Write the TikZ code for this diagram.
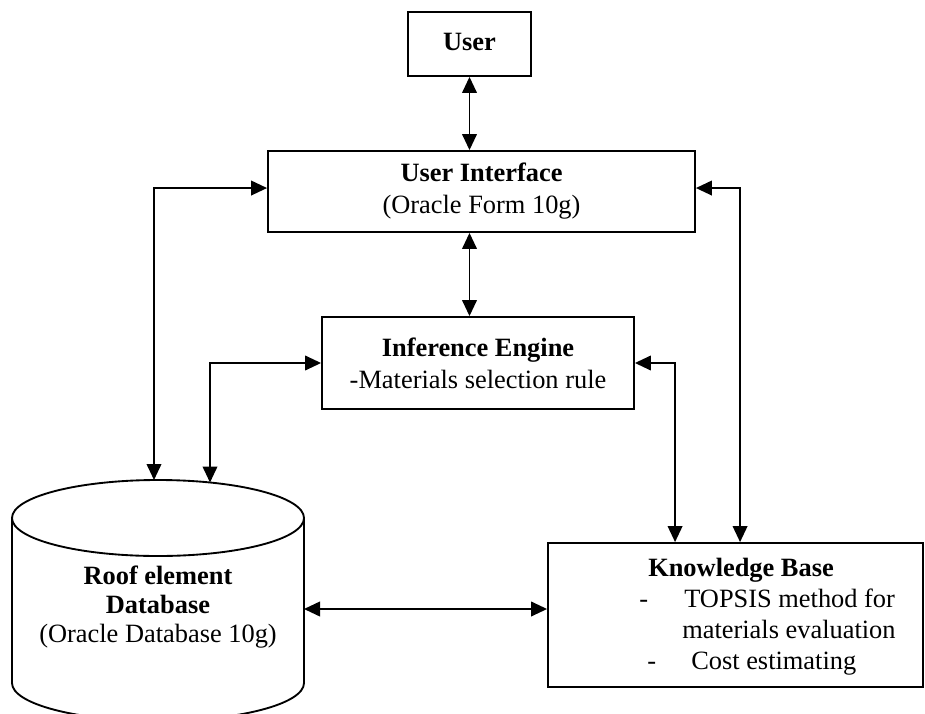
\documentclass[tikz,border=0pt]{standalone}
\usepackage{fontspec}
\setmainfont{Liberation Serif}
\usetikzlibrary{arrows.meta,calc}
\begin{document}
\begin{tikzpicture}[x=0.75pt,y=-0.75pt,
  txt/.style={font=\fontsize{19.8}{24}\selectfont},
  box/.style={txt,draw,line width=1.4pt,inner sep=0pt,align=center},
  biarrow/.style={line width=1.3pt,{Triangle[length=12pt,width=11pt]}-{Triangle[length=12pt,width=11pt]}},
]
\useasboundingbox (0,0) rectangle (925,714);

% boxes
\node[box,minimum width=92.25pt,minimum height=48pt,text depth=3pt] (user) at (469.5,44) {\textbf{User}};
\node[box,minimum width=320.25pt,minimum height=60.75pt] (ui) at (481.5,191.5)
  {\textbf{User Interface}\\(Oracle Form 10g)};
\node[box,minimum width=234pt,minimum height=69pt] (ie) at (478,363)
  {\textbf{Inference Engine}\\-Materials selection rule};
\node[box,minimum width=281.25pt,minimum height=108pt] (kb) at (735.5,615) {};
\node[txt,align=left,inner sep=0pt,anchor=west,font=\fontsize{19.8}{23.25}\selectfont] (kbtext) at (639,617)
  {\hspace*{6.75pt}\textbf{Knowledge Base}\\
   \makebox[33.75pt][l]{-}TOPSIS method for\\
   \hspace*{32.25pt}materials evaluation\\
   \hspace*{6pt}\makebox[33pt][l]{-}Cost estimating};

% database cylinder
\draw[line width=1.4pt] (158,518) ellipse [x radius=146, y radius=38];
\draw[line width=1.4pt] (12,518) -- (12,683)
  arc[start angle=180, end angle=0, x radius=146, y radius=38] -- (304,518);
\node[txt,align=center,inner sep=0pt,font=\fontsize{19.8}{22}\selectfont] (db) at (158,607)
  {\textbf{Roof element}\\\textbf{Database}\\(Oracle Database 10g)};
\coordinate (dbA) at (154,480);
\coordinate (dbB) at (210,482.5);
\coordinate (dbE) at (304,609);
\coordinate (kbA) at ($(kb.north west)+(128,0)$);
\coordinate (kbB) at ($(kb.north west)+(193,0)$);

% connectors
\draw[biarrow] (user.south) -- (user.south |- ui.north);
\draw[biarrow] (user.south |- ui.south) -- (user.south |- ie.north);
\draw[biarrow] (dbA) |- ([yshift=2.6pt]ui.west);
\draw[biarrow] (dbB) |- (ie.west);
\draw[biarrow] (ie.east) -| (kbA);
\draw[biarrow] ([yshift=2.6pt]ui.east) -| (kbB);
\draw[biarrow] (dbE) -- (dbE -| kb.west);
\end{tikzpicture}
\end{document}
